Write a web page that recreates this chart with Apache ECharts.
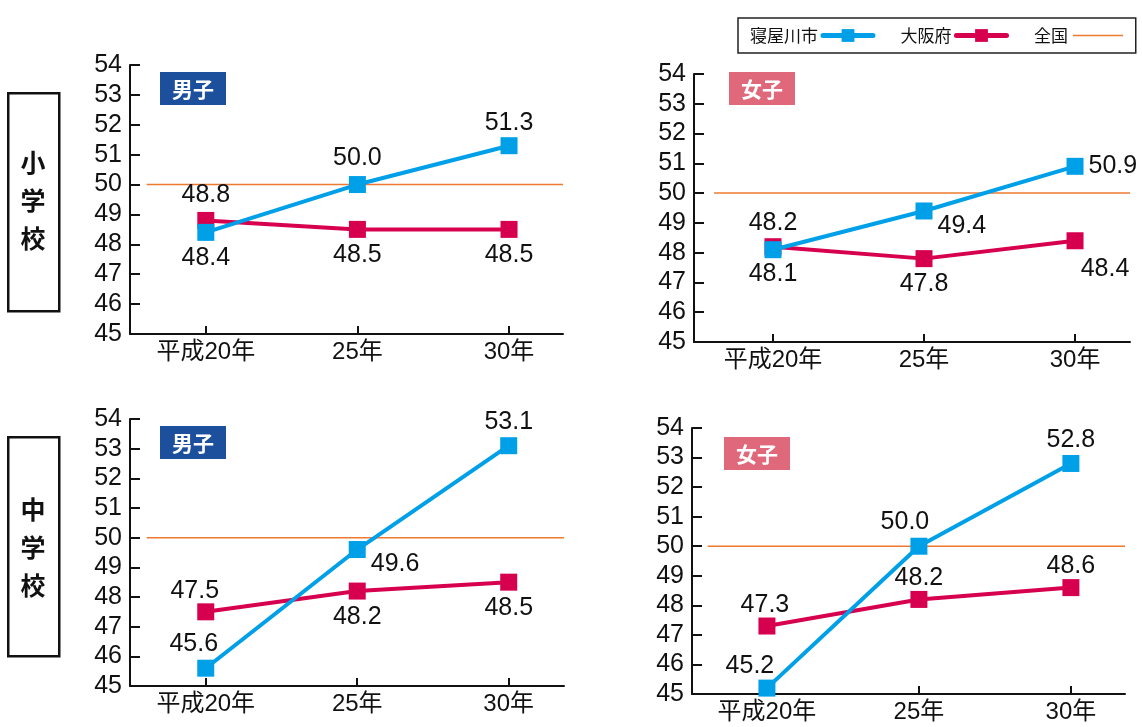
<!DOCTYPE html>
<html><head><meta charset="utf-8">
<script src="https://cdn.jsdelivr.net/npm/echarts@6/dist/echarts.min.js"></script>
<style>html,body{margin:0;padding:0;background:#fff}#c{width:1142px;height:727px}</style>
</head><body><div id="c"></div>
<script>
// ---- data ----
const categories = ['平成20年', '25年', '30年'];
const seriesNames = ['寝屋川市', '大阪府', '全国'];
const yMin = 45, yMax = 54, yStep = 1;
const neyaElemBoys  = [48.4, 50.0, 51.3];
const osakaElemBoys = [48.8, 48.5, 48.5];
const neyaElemGirls  = [48.1, 49.4, 50.9];
const osakaElemGirls = [48.2, 47.8, 48.4];
const neyaJrBoys  = [45.6, 49.6, 53.1];
const osakaJrBoys = [47.5, 48.2, 48.5];
const neyaJrGirls  = [45.2, 50.0, 52.8];
const osakaJrGirls = [47.3, 48.2, 48.6];
const nationalAvg = [50, 50];
const panelTitles = ['男子', '女子', '男子', '女子'];
const schoolTitles = ['小学校', '中学校'];

// ---- style ----
const BLUE = '#00a0e9', RED = '#d7004f', ORANGE = '#ee7a30';
const FONT = '"Liberation Sans", "Noto Sans CJK JP", sans-serif';
const CJK = '"Noto Sans CJK JP", sans-serif';

const panels = [
  {grid:{left:130, top:65, width:433, height:269}, xmin:-0.5, xmax:2.356, neya:neyaElemBoys, osaka:osakaElemBoys,
   neyaLab:[['bottom',[0,0]],['top',[0,0]],['top',[0,3]]],
   osakaLab:[['top',[0,1]],['bottom',[0,0]],['bottom',[0,0]]]},
  {grid:{left:694, top:74, width:436, height:268}, xmin:-0.523, xmax:2.364, neya:neyaElemGirls, osaka:osakaElemGirls,
   neyaLab:[['bottom',[0,-2]],['right',[0,15]],['right',[0,0]]],
   osakaLab:[['top',[0,2]],['bottom',[0,-1]],['bottom',[30,2]]]},
  {grid:{left:130, top:419, width:434, height:267}, xmin:-0.5, xmax:2.365, neya:neyaJrBoys, osaka:osakaJrBoys,
   neyaLab:[['top',[-12,2]],['right',[0,15]],['top',[0,2]]],
   osakaLab:[['top',[-11,5]],['bottom',[0,0]],['bottom',[0,0]]]},
  {grid:{left:692, top:428, width:433, height:266}, xmin:-0.493, xmax:2.356, neya:neyaJrGirls, osaka:osakaJrGirls,
   neyaLab:[['top',[-17,4]],['top',[-14,2]],['top',[0,3]]],
   osakaLab:[['top',[-2,5]],['top',[0,5]],['top',[0,5]]]}
];

const grids = [], xAxes = [], yAxes = [], series = [];
panels.forEach((p, i) => {
  grids.push(Object.assign({containLabel:false}, p.grid));
  xAxes.push({
    type:'value', gridIndex:i, min:p.xmin, max:p.xmax,
    axisLine:{show:true, onZero:false, lineStyle:{color:'#111', width:2}},
    axisTick:{show:true, inside:true, length:8, lineStyle:{color:'#111', width:2}, customValues:[0,1,2]},
    axisLabel:{show:true, customValues:[0,1,2], formatter:v => categories[Math.round(v)] || '',
      color:'#111', fontSize:24, fontFamily:FONT, margin:6},
    splitLine:{show:false}
  });
  yAxes.push({
    type:'value', gridIndex:i, min:yMin, max:yMax, interval:yStep,
    axisLine:{show:true, onZero:false, lineStyle:{color:'#111', width:2}},
    axisTick:{show:true, inside:true, length:10, lineStyle:{color:'#111', width:2}},
    axisLabel:{color:'#111', fontSize:25, fontFamily:FONT, margin:8, showMinLabel:true, showMaxLabel:true},
    splitLine:{show:false}
  });
  // national average line
  series.push({
    name:seriesNames[2], type:'line', xAxisIndex:i, yAxisIndex:i, symbol:'none', silent:true,
    lineStyle:{color:ORANGE, width:1.5}, itemStyle:{color:ORANGE}, z:1,
    data:[[-0.39, nationalAvg[0]], [p.xmax, nationalAvg[1]]]
  });
  const mk = (vals, labs) => vals.map((v, k) => ({
    value:[k, v],
    label:{position:labs[k][0], offset:labs[k][1]}
  }));
  series.push({
    name:seriesNames[1], type:'line', xAxisIndex:i, yAxisIndex:i, symbol:'rect', symbolSize:17,
    lineStyle:{color:RED, width:4}, itemStyle:{color:RED}, z:2,
    label:{show:true, fontSize:25, fontFamily:FONT, color:'#111', distance:5, formatter:o => o.value[1].toFixed(1)},
    data:mk(p.osaka, p.osakaLab)
  });
  series.push({
    name:seriesNames[0], type:'line', xAxisIndex:i, yAxisIndex:i, symbol:'rect', symbolSize:17,
    lineStyle:{color:BLUE, width:4}, itemStyle:{color:BLUE}, z:3,
    label:{show:true, fontSize:25, fontFamily:FONT, color:'#111', distance:5, formatter:o => o.value[1].toFixed(1)},
    data:mk(p.neya, p.neyaLab)
  });
});

const tagBoxes = [
  {x:160, y:72, c:'#1c4f9c'}, {x:729, y:72, c:'#e0687b'},
  {x:160, y:426, c:'#1c4f9c'}, {x:724, y:437, c:'#e0687b'}
];
const graphic = [];
tagBoxes.forEach((b, i) => {
  graphic.push({type:'rect', left:b.x, top:b.y, shape:{width:66, height:33}, style:{fill:b.c}, z:10});
  graphic.push({type:'text', x:b.x+33, y:b.y+17, z:11,
    style:{text:panelTitles[i], fill:'#fff', font:'bold 21px ' + CJK, align:'center', verticalAlign:'middle'}});
});
const sideBoxes = [{y:92, h:218, ty:200}, {y:436, h:219, ty:547}];
sideBoxes.forEach((b, i) => {
  graphic.push({type:'rect', left:7, top:b.y, shape:{x:0, y:0, width:51, height:b.h},
    style:{fill:'#fff', stroke:'#111', lineWidth:2.5}, z:10});
  graphic.push({type:'text', x:33, y:b.ty, z:11,
    style:{text:schoolTitles[i].split('').join('\n'), fill:'#111', font:'bold 25px ' + CJK,
      align:'center', verticalAlign:'middle', lineHeight:38}});
});

const chart = echarts.init(document.getElementById('c'), null, {renderer:'canvas'});
chart.setOption({
  backgroundColor:'#fff',
  animation:false,
  legend:{
    data:[
      {name:seriesNames[0], lineStyle:{width:5, cap:'round'}},
      {name:seriesNames[1], lineStyle:{width:5, cap:'round'}},
      {name:seriesNames[2], itemStyle:{opacity:0}, lineStyle:{width:1.5}}
    ],
    left:738, top:18, padding:[9, 12, 9, 12], itemGap:25,
    itemWidth:50, itemHeight:16, align:'right', borderColor:'#222', borderWidth:1.5,
    textStyle:{fontSize:17, fontFamily:CJK, color:'#111'}, selectedMode:false
  },
  grid:grids, xAxis:xAxes, yAxis:yAxes, series:series, graphic:graphic
});
</script></body></html>
